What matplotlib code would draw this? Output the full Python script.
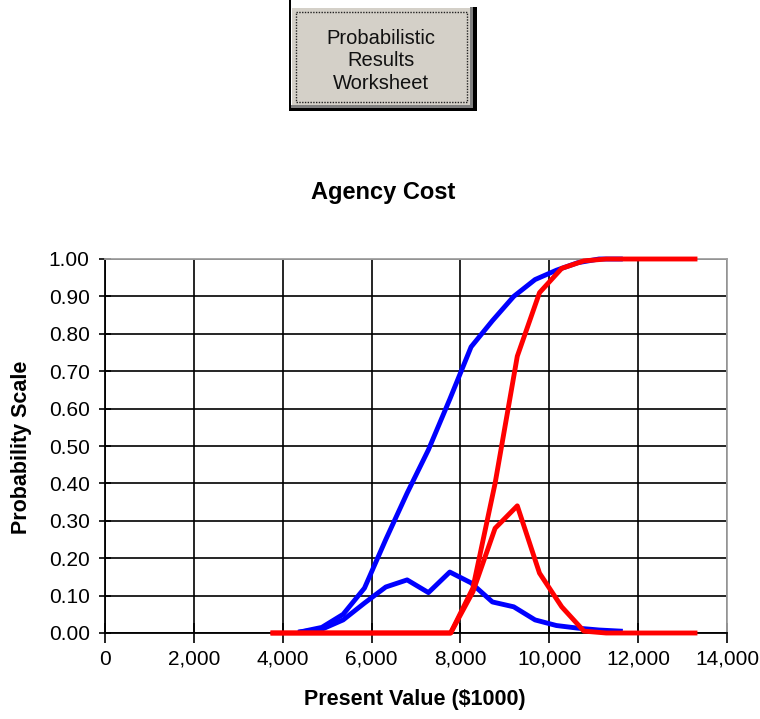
import matplotlib.pyplot as plt
from matplotlib.patches import Rectangle
import numpy as np

plt.rcParams['font.family'] = ['Liberation Sans', 'DejaVu Sans']

# present value grid ($1000) and probabilities
blue_x = [4400, 4880, 5360, 5840, 6320, 6800, 7280, 7760,
          8240, 8720, 9200, 9680, 10160, 10640, 11120, 11600]
blue_pdf = [0.003, 0.01, 0.035, 0.08, 0.123, 0.142, 0.108, 0.163,
            0.134, 0.083, 0.07, 0.035, 0.02, 0.013, 0.008, 0.005]
blue_cdf = [0.003, 0.015, 0.05, 0.12, 0.25, 0.374, 0.49, 0.625,
            0.765, 0.835, 0.90, 0.945, 0.97, 0.99, 1.0, 1.0]

red_x = [3780, 4280, 4780, 5280, 5780, 6280, 6780, 7280, 7780, 8280,
         8780, 9280, 9780, 10280, 10780, 11280, 11780, 12280, 12780, 13280]
red_pdf = [0, 0, 0, 0, 0, 0, 0, 0, 0, 0.11,
           0.28, 0.34, 0.16, 0.07, 0.005, 0, 0, 0, 0, 0]
red_cdf = [0, 0, 0, 0, 0, 0, 0, 0, 0, 0.12,
           0.40, 0.74, 0.91, 0.975, 0.995, 1.0, 1.0, 1.0, 1.0, 1.0]

x_ticks = [0, 2000, 4000, 6000, 8000, 10000, 12000, 14000]
y_ticks = [0.0, 0.1, 0.2, 0.3, 0.4, 0.5, 0.6, 0.7, 0.8, 0.9, 1.0]

W, H = 760, 719
fig = plt.figure(figsize=(W / 100, H / 100), dpi=100)

# button at the top (drawn in pixel units, y down)
bax = fig.add_axes([288 / W, 1 - 112 / H, 190 / W, 112 / H])
bax.set_xlim(288, 478)
bax.set_ylim(112, 0)
bax.axis("off")
bax.add_patch(Rectangle((289, 0), 2, 111, facecolor="black", edgecolor="none"))
bax.add_patch(Rectangle((289, 7), 188, 104, facecolor="black", edgecolor="none"))
bax.add_patch(Rectangle((291, 7), 182, 101, facecolor="#808080", edgecolor="none"))
bax.add_patch(Rectangle((291, 7), 179, 98, facecolor="white", edgecolor="none"))
bax.add_patch(Rectangle((292, 8), 178, 97, facecolor="#d4d0c8", edgecolor="none"))
bax.add_patch(Rectangle((296, 12), 171, 90, facecolor="none", edgecolor="#222222",
                        lw=1, linestyle=(0, (1, 1))))
bax.text(381, 61, "Probabilistic\nResults\nWorksheet", ha="center", va="center",
         fontsize=14.5, color="#111111", linespacing=1.25)

# main chart
ax = fig.add_axes([105 / W, 1 - 633 / H, 622 / W, 374 / H])
ax.plot(blue_x, blue_cdf, color="#0000ff", lw=3.5, clip_on=False, zorder=3)
ax.plot(blue_x, blue_pdf, color="#0000ff", lw=3.5, clip_on=False, zorder=3)
ax.plot(red_x, red_cdf, color="#ff0000", lw=3.5, clip_on=False, zorder=4)
ax.plot(red_x, red_pdf, color="#ff0000", lw=3.5, clip_on=False, zorder=4)

ax.set_xlim(0, 14000)
ax.set_ylim(0, 1.0)
ax.set_xticks(x_ticks)
ax.set_xticklabels([f"{v:,}" for v in x_ticks])
ax.set_yticks(y_ticks)
ax.set_yticklabels([f"{v:.2f}" for v in y_ticks])
ax.grid(True, color="black", lw=1.2)
ax.set_axisbelow(True)
ax.tick_params(axis="x", direction="inout", length=14, width=1.2, labelsize=15, pad=5)
ax.tick_params(axis="y", direction="inout", length=8, width=1.2, labelsize=15, pad=7)
for s in ["left", "bottom"]:
    ax.spines[s].set_color("black")
    ax.spines[s].set_linewidth(1.3)
for s in ["top", "right"]:
    ax.spines[s].set_color("#a0a0a0")
    ax.spines[s].set_linewidth(1.3)

fig.text(383 / W, 1 - 192 / H, "Agency Cost", ha="center", va="center",
         fontsize=17, fontweight="bold")
fig.text(415 / W, 1 - 700 / H, "Present Value ($1000)", ha="center", va="center",
         fontsize=15.5, fontweight="bold")
fig.text(22 / W, 1 - 447 / H, "Probability Scale", ha="center", va="center",
         rotation=90, fontsize=15.5, fontweight="bold")

fig.savefig("out.png", dpi=100)
